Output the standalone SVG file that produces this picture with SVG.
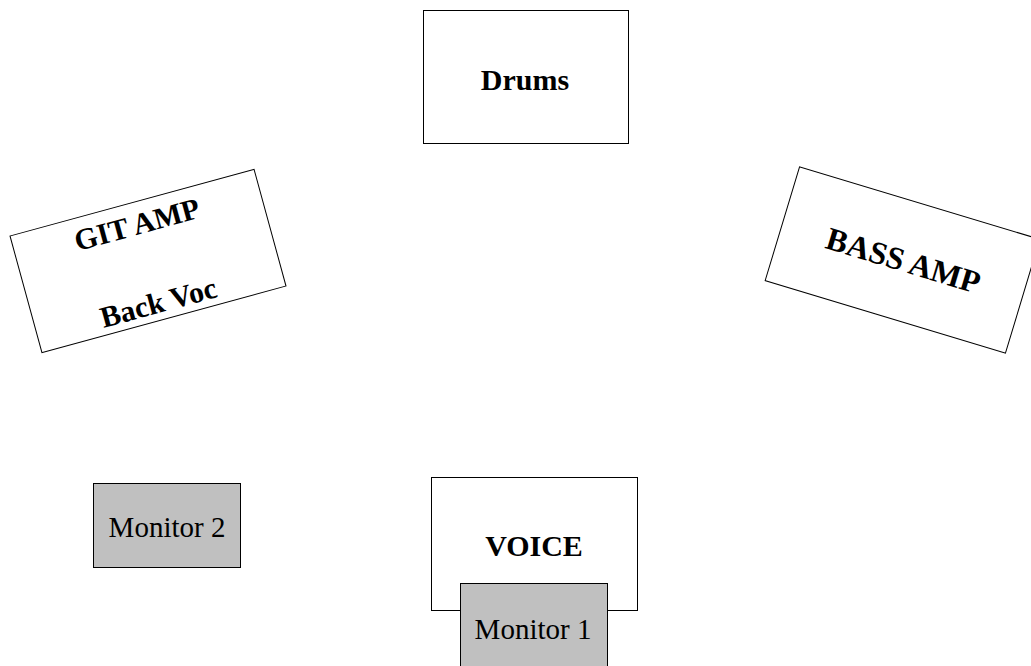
<svg xmlns="http://www.w3.org/2000/svg" width="1031" height="666" viewBox="0 0 1031 666">
<style>
.box{fill:#ffffff;stroke:#000000;stroke-width:1}
.mon{fill:#c0c0c0;stroke:#000000;stroke-width:1}
.b{font-family:"Liberation Serif","Times New Roman",serif;font-weight:bold;font-size:30px;text-anchor:middle;fill:#000}
.r{font-family:"Liberation Serif","Times New Roman",serif;font-size:29px;text-anchor:middle;fill:#000}
</style>
<rect width="1031" height="666" fill="#ffffff"/>
<g id="connectors"></g>
<g id="drums">
<rect class="box" x="423.5" y="10.5" width="205" height="133"/>
<text class="b" x="525" y="90">Drums</text>
</g>
<g id="gitamp" transform="translate(148,261) rotate(-15.3)">
<rect class="box" x="-126.5" y="-60.5" width="253" height="121"/>
<text class="b" x="-1" y="-28">GIT AMP</text>
<text class="b" x="-1" y="53">Back Voc</text>
</g>
<g id="bassamp" transform="translate(902.5,260) rotate(16.8)">
<rect class="box" x="-125.5" y="-59.5" width="251" height="119"/>
<text class="b" x="1" y="11" style="font-size:32px">BASS AMP</text>
</g>
<g id="monitor2">
<rect class="mon" x="93.5" y="483.5" width="147" height="84"/>
<text class="r" x="167" y="537">Monitor 2</text>
</g>
<g id="voice">
<rect class="box" x="431.5" y="477.5" width="206" height="133"/>
<text class="b" x="534" y="556">VOICE</text>
</g>
<g id="monitor1">
<rect class="mon" x="460.5" y="583.5" width="147" height="84"/>
<text class="r" x="533" y="639">Monitor 1</text>
</g>
</svg>
